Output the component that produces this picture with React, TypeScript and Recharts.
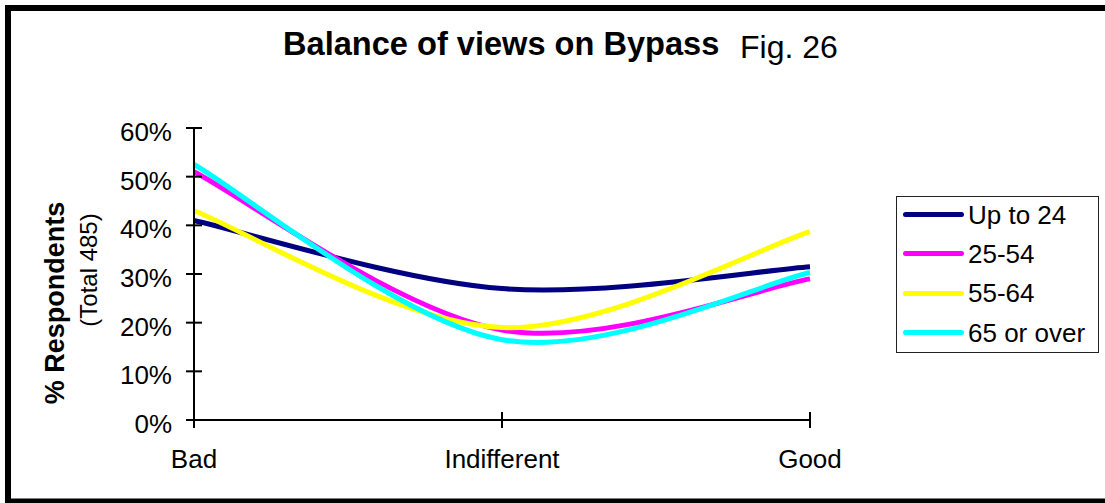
import React from "react";
import { LineChart, Line, XAxis, YAxis, Legend } from "recharts";

// categories on the x axis
const categories = ["Bad", "Indifferent", "Good"];

// % of respondents per age group
const upTo24 = [41, 27, 31.5];
const age25to54 = [51, 18.5, 29];
const age55to64 = [43, 19, 38.7];
const age65plus = [52.5, 16.5, 30.3];

const yTicks = [0, 10, 20, 30, 40, 50, 60];

const series = [
  { key: "upTo24", name: "Up to 24", values: upTo24, color: "#000080" },
  { key: "age25to54", name: "25-54", values: age25to54, color: "#FF00FF" },
  { key: "age55to64", name: "55-64", values: age55to64, color: "#FFFF00" },
  { key: "age65plus", name: "65 or over", values: age65plus, color: "#00FFFF" },
];

const data = categories.map((cat, i) => {
  const row: any = { cat };
  series.forEach((s) => (row[s.key] = s.values[i]));
  return row;
});

const FONT = '"Liberation Sans", Arial, sans-serif';

// Excel-style smoothed line (cardinal bezier, tangent = (next - prev) / 6)
const excelSmooth = (context: any) => {
  let pts: number[][] = [];
  return {
    areaStart() {},
    areaEnd() {},
    lineStart() {
      pts = [];
    },
    lineEnd() {
      const n = pts.length;
      if (!n) return;
      context.moveTo(pts[0][0], pts[0][1]);
      for (let i = 0; i < n - 1; i++) {
        const p0 = pts[Math.max(i - 1, 0)];
        const p1 = pts[i];
        const p2 = pts[i + 1];
        const p3 = pts[Math.min(i + 2, n - 1)];
        context.bezierCurveTo(
          p1[0] + (p2[0] - p0[0]) / 6,
          p1[1] + (p2[1] - p0[1]) / 6,
          p2[0] - (p3[0] - p1[0]) / 6,
          p2[1] - (p3[1] - p1[1]) / 6,
          p2[0],
          p2[1]
        );
      }
    },
    point(x: number, y: number) {
      pts.push([+x, +y]);
    },
  };
};

const YTick = (props: any) => {
  const { x, y, payload } = props;
  const axisX = x + 22;
  return (
    <g>
      <line x1={axisX - 8} x2={axisX + 8} y1={y} y2={y} stroke="#000" strokeWidth={2} />
      <text x={x} y={y + 13} textAnchor="end" fontFamily={FONT} fontSize={26} fill="#000">
        {`${payload.value}%`}
      </text>
    </g>
  );
};

const XTick = (props: any) => {
  const { x, y, payload } = props;
  return (
    <g>
      <line x1={x} x2={x} y1={y - 24} y2={y - 8} stroke="#000" strokeWidth={2} />
      <text x={x} y={y + 32} textAnchor="middle" fontFamily={FONT} fontSize={26} fill="#000">
        {payload.value}
      </text>
    </g>
  );
};

const seriesOrder = series.map((s) => s.name);

const renderLegend = (props: any) => {
  const payload = [...(props.payload || [])].sort(
    (a: any, b: any) => seriesOrder.indexOf(a.value) - seriesOrder.indexOf(b.value)
  );
  return (
    <div
      style={{
        width: 203,
        height: 157,
        boxSizing: "border-box",
        border: "1px solid #222",
        background: "#fff",
      }}
    >
      {payload.map((entry: any, i: number) => (
        <div
          key={i}
          style={{
            display: "flex",
            alignItems: "center",
            height: 39.3,
            marginTop: i === 0 ? -2 : 0,
          }}
        >
          <span
            style={{
              display: "inline-block",
              marginLeft: 6,
              width: 61,
              height: 5,
              borderRadius: 3,
              background: entry.color,
            }}
          />
          <span
            style={{
              marginLeft: 4,
              fontFamily: FONT,
              fontSize: 26,
              color: "#000",
              lineHeight: 1,
            }}
          >
            {entry.value}
          </span>
        </div>
      ))}
    </div>
  );
};

export default function App() {
  return (
    <div
      style={{
        position: "fixed",
        left: 0,
        top: 0,
        width: 1105,
        height: 503,
        background: "#fff",
        overflow: "hidden",
      }}
    >
      <LineChart
        width={1105}
        height={503}
        data={data}
        margin={{ top: 128, right: 295, bottom: 23, left: 94 }}
      >
        <XAxis
          dataKey="cat"
          height={60}
          tickSize={8}
          tickMargin={8}
          tickLine={false}
          axisLine={{ stroke: "#000", strokeWidth: 2 }}
          tick={<XTick />}
          interval={0}
        />
        <YAxis
          width={100}
          domain={[0, 60]}
          ticks={yTicks}
          tickSize={8}
          tickMargin={14}
          tickLine={false}
          axisLine={{ stroke: "#000", strokeWidth: 2 }}
          tick={<YTick />}
          interval={0}
        />
        <Legend
          layout="horizontal"
          verticalAlign="middle"
          align="center"
          content={renderLegend}
          wrapperStyle={{ position: "absolute", left: 896, top: 196, width: 203, height: 157 }}
        />
        {series.map((s) => (
          <Line
            key={s.key}
            dataKey={s.key}
            name={s.name}
            type={excelSmooth as any}
            stroke={s.color}
            strokeWidth={5}
            strokeLinejoin="round"
            dot={false}
            activeDot={false}
            isAnimationActive={false}
          />
        ))}
      </LineChart>
      <svg
        width={1105}
        height={503}
        style={{ position: "absolute", left: 0, top: 0, pointerEvents: "none" }}
      >
        <path d="M1120 8 H8 V501.5 H1120" fill="none" stroke="#000" strokeWidth={6} />
        <text x={283} y={55} fontFamily={FONT} fontSize={32.6} fontWeight="bold" fill="#000">
          Balance of views on Bypass
        </text>
        <text x={740} y={58} fontFamily={FONT} fontSize={32} fill="#000">
          Fig. 26
        </text>
        <text
          x={64}
          y={303}
          transform="rotate(-90 64 303)"
          textAnchor="middle"
          fontFamily={FONT}
          fontSize={27}
          fontWeight="bold"
          fill="#000"
        >
          % Respondents
        </text>
        <text
          x={97}
          y={270}
          transform="rotate(-90 97 270)"
          textAnchor="middle"
          fontFamily={FONT}
          fontSize={24}
          fill="#000"
        >
          (Total 485)
        </text>
      </svg>
    </div>
  );
}
